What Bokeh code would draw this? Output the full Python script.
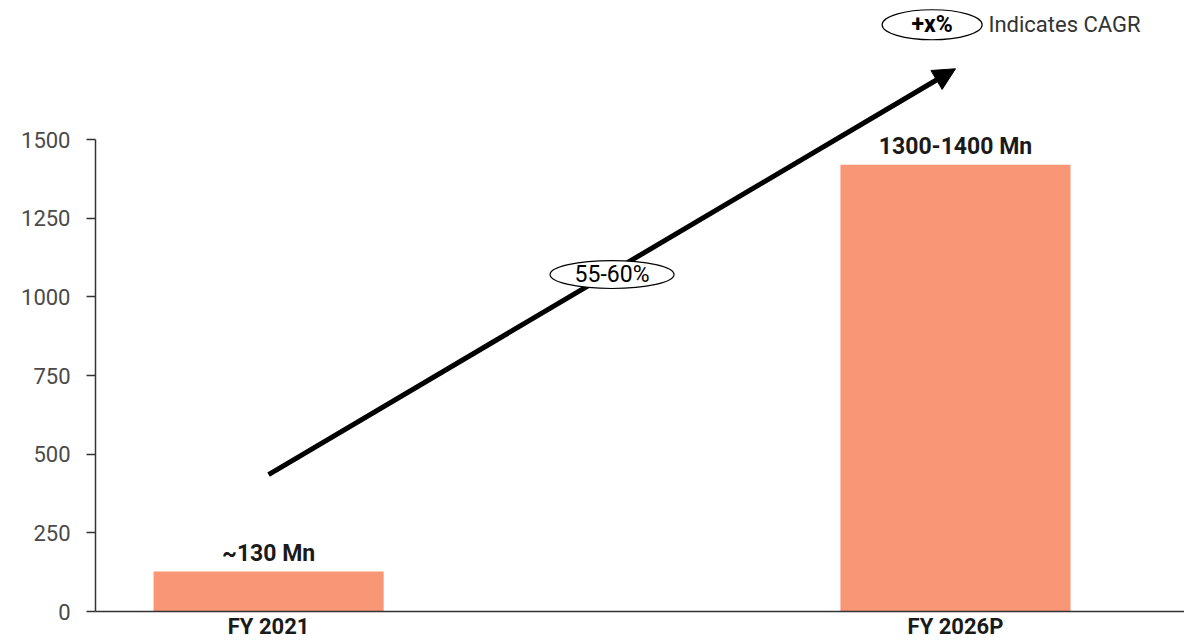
from bokeh.plotting import figure
from bokeh.models import ColumnDataSource, FixedTicker, Arrow, NormalHead, LinearAxis, Range1d
from bokeh.core.properties import value
from bokeh.embed import file_html
from bokeh.resources import INLINE

categories = ["FY 2021", "FY 2026P"]
values = [127, 1420]
bar_labels = ["~130 Mn", "1300-1400 Mn"]
cagr_label = "55-60%"
y_ticks = [0, 250, 500, 750, 1000, 1250, 1500]

FONT = "Roboto"
positions = list(range(len(categories)))

p = figure(width=1184, height=642, output_backend="svg", toolbar_location=None,
           x_range=Range1d(-0.252, 1.3334), y_range=Range1d(0, 1942),
           min_border_left=95, min_border_right=0, min_border_top=0, min_border_bottom=31,
           x_axis_location=None, y_axis_location=None)
p.outline_line_color = None
p.xgrid.visible = False
p.ygrid.visible = False
p.background_fill_color = "white"
p.border_fill_color = "white"

src = ColumnDataSource(dict(x=positions, top=values, label=bar_labels))
p.vbar(x="x", top="top", width=0.335, bottom=0, source=src,
       fill_color="#F89676", line_color=None)
p.text(x="x", y="top", text="label", source=src, text_align="center",
       text_baseline="bottom", y_offset=-5, text_font=value(FONT),
       text_font_size="23px", text_font_style="bold", text_color="#1a1a1a")

# axes
yax = LinearAxis(ticker=FixedTicker(ticks=y_ticks), bounds=(0, 1500))
yax.axis_line_color = "#333333"
yax.axis_line_width = 1.5
yax.major_tick_line_color = "#333333"
yax.major_tick_line_width = 1.5
yax.major_tick_in = 0
yax.major_tick_out = 9
yax.minor_tick_line_color = None
yax.major_label_standoff = 16
yax.major_label_text_font = FONT
yax.major_label_text_font_size = "22px"
yax.major_label_text_color = "#4a4a4a"
p.add_layout(yax, "left")

xax = LinearAxis(ticker=FixedTicker(ticks=positions),
                 major_label_overrides={i: c for i, c in enumerate(categories)})
xax.axis_line_color = "#333333"
xax.axis_line_width = 1.5
xax.major_tick_line_color = None
xax.major_tick_in = 0
xax.major_tick_out = 0
xax.minor_tick_line_color = None
xax.minor_tick_in = 0
xax.minor_tick_out = 0
xax.major_label_standoff = 2
xax.major_label_text_font = FONT
xax.major_label_text_font_size = "22px"
xax.major_label_text_font_style = "bold"
xax.major_label_text_color = "#1a1a1a"
p.add_layout(xax, "below")

# CAGR arrow (beneath the ellipse)
p.add_layout(Arrow(x_start=0, y_start=435, x_end=1.0, y_end=1725,
                   line_width=5, line_color="black", level="underlay",
                   end=NormalHead(size=22, fill_color="black", line_color="black")))
p.ellipse(x=[0.5], y=[1071], width=124, height=28, width_units="screen",
          height_units="screen", fill_color="white", line_color="black", line_width=1.2)
p.text(x=[0.5], y=[1071], text=[cagr_label], text_align="center",
       text_baseline="middle", text_font=value(FONT), text_font_size="23px",
       text_color="black")

# legend
p.ellipse(x=[0.966], y=[1865], width=100, height=30, width_units="screen",
          height_units="screen", fill_color="white", line_color="black", line_width=1.2)
p.text(x=[0.966], y=[1865], text=["+x%"], text_align="center",
       text_baseline="middle", text_font=value(FONT), text_font_size="23px",
       text_font_style="bold", text_color="black")
p.text(x=[1.048], y=[1865], text=["Indicates CAGR"], text_align="left",
       text_baseline="middle", text_font=value(FONT), text_font_size="22px",
       text_color="#333333")

open("out.html", "w").write(file_html(p, INLINE))
